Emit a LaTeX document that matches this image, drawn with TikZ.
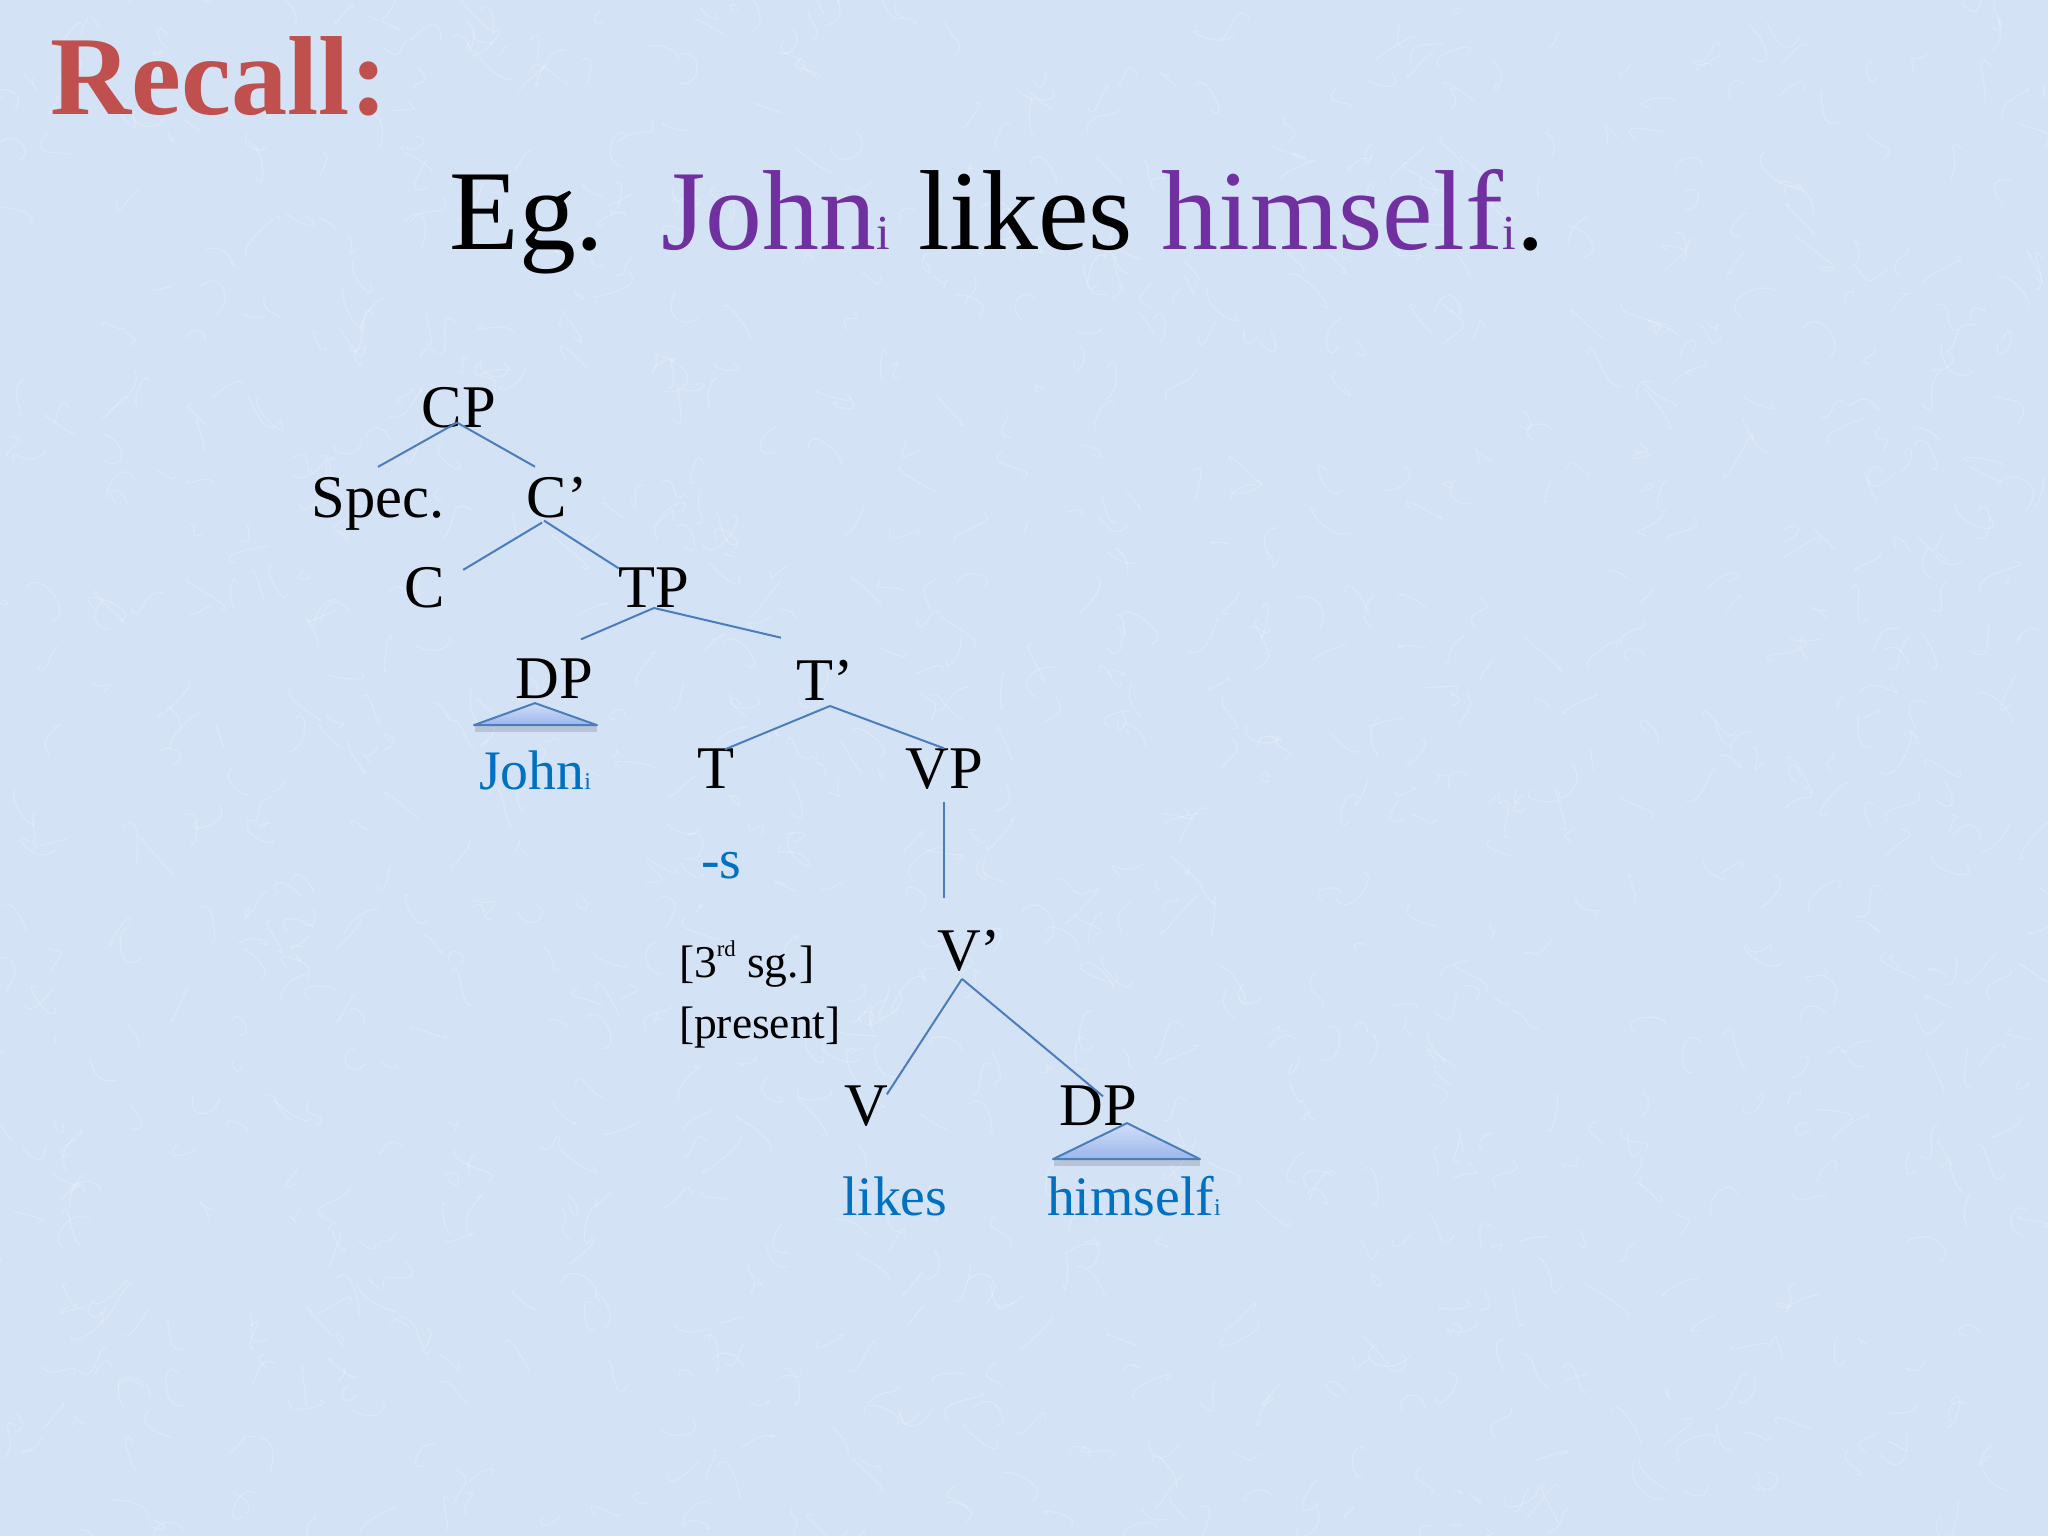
\documentclass[tikz,border=0pt]{standalone}
\usepackage{fontspec}
\setmainfont{Liberation Serif}
\usetikzlibrary{calc}
\definecolor{recallred}{HTML}{C0504D}
\definecolor{purp}{HTML}{7030A0}
\definecolor{leafblue}{HTML}{0070C0}
\definecolor{branchblue}{HTML}{4A7EBB}
\definecolor{slidebg}{RGB}{212,226,245}
\definecolor{trilight}{RGB}{210,222,248}
\definecolor{tridark}{RGB}{155,182,236}
\newcommand{\subi}{\scalebox{0.43}{i}}

\begin{document}
\begin{tikzpicture}[x=0.3515625pt,y=-0.3515625pt,
  lab/.style={inner sep=0pt,outer sep=0pt,anchor=base,font=\fontsize{21.3}{25}\selectfont},
  leaf/.style={inner sep=0pt,outer sep=0pt,anchor=base west,text=leafblue,font=\fontsize{19.6}{23}\selectfont},
  feat/.style={inner sep=0pt,outer sep=0pt,anchor=base west,font=\fontsize{16}{19}\selectfont},
  branch/.style={draw=branchblue,line width=0.7pt},
  tri/.style={draw=branchblue,line width=0.7pt,line join=round,top color=trilight,bottom color=tridark},
  trishadow/.style={fill=black,opacity=0.13},
  grain/.style={white,line width=0.4pt,opacity=0.22,line cap=round}]
\useasboundingbox (0,0) rectangle (2048,1536);
\fill[slidebg] (0,0) rectangle (2048,1536);
\pgfmathsetseed{7}
\foreach \k in {1,...,1200}
  \draw[grain] (rnd*2048,rnd*1536) .. controls +(rand*25,rand*25) and +(rand*25,rand*25) .. +(rand*35,rand*35);
\node[inner sep=0pt,anchor=base west,text=recallred,font=\fontsize{39.5}{47}\selectfont\bfseries] (recall) at (50,115) {Recall:};
\node[inner sep=0pt,anchor=base west,font=\fontsize{40}{48}\selectfont] (example) at (449,250) {Eg.\hspace{0.5em}\textcolor{purp}{John\subi} likes \textcolor{purp}{himself\subi}.};
\node[lab] (cp) at (459,428) {CP};
\node[lab] (spec) at (378,518) {Spec.};
\node[lab] (cbar) at (547,518) {C\rlap{’}};
\node[lab] (c) at (425,608) {C};
\node[lab] (tp) at (654,608) {TP};
\node[lab] (dpj) at (554,698) {DP};
\node[lab] (tbar) at (825,700) {T’};
\node[lab] (t) at (716,788) {T};
\node[lab] (vp) at (944,788) {VP};
\node[lab] (vbar) at (959,970) {V\rlap{’}};
\node[lab] (v) at (866,1125) {V};
\node[lab] (dph) at (1098,1125) {DP};
\node[leaf] (john) at (479,789) {John\subi};
\node[leaf] (suffix) at (701,878) {-s};
\node[leaf] (likes) at (842,1215) {likes};
\node[leaf] (himself) at (1047,1215) {himself\subi};
\node[feat] (person) at (679,977) {[3\raisebox{0.45em}{\fontsize{8}{8}\selectfont rd} sg.]};
\node[feat] (tense) at (679,1038) {[present]};
\draw[branch] ($(cp.south)+(-2,-6)$) -- ($(spec.north)+(0,-11)$);
\draw[branch] ($(cp.south)+(-2,-6)$) -- ($(cbar.north)+(-12,-11)$);
\draw[branch] ($(cbar.south)+(-5,4)$) -- ($(c.north east)+(18,2)$);
\draw[branch] ($(cbar.south)+(-3,2)$) -- (tp.north west);
\draw[branch] (tp.south) -- ($(dpj.north)+(27,-19)$);
\draw[branch] (tp.south) -- ($(tbar.north)+(-44,-22)$);
\draw[branch] ($(tbar.south)+(5,6)$) -- ($(t.north)+(9,1)$);
\draw[branch] ($(tbar.south)+(5,6)$) -- (vp.north);
\draw[branch,shorten <=4.5pt,shorten >=11.3pt] (vp.south) -- (vp.south |- vbar.north);
\draw[branch] ($(vbar.south)+(3,8)$) -- ($(v.north east)+(-1,9)$);
\draw[branch] ($(vbar.south)+(3,8)$) -- ($(dph.north)+(5,11)$);
\path ($(dpj.south)+(-19,5)$) coordinate (jtop);
\fill[trishadow] ($(jtop)+(-60,23)$) rectangle ++(122,6);
\path[tri] (jtop) -- ++(62,22) -- ++(-123,0) -- cycle;
\path ($(dph.south)+(29,-2)$) coordinate (htop);
\fill[trishadow] ($(htop)+(-73,37)$) rectangle ++(146,6);
\path[tri] (htop) -- ++(73,36) -- ++(-147,0) -- cycle;
\end{tikzpicture}
\end{document}
